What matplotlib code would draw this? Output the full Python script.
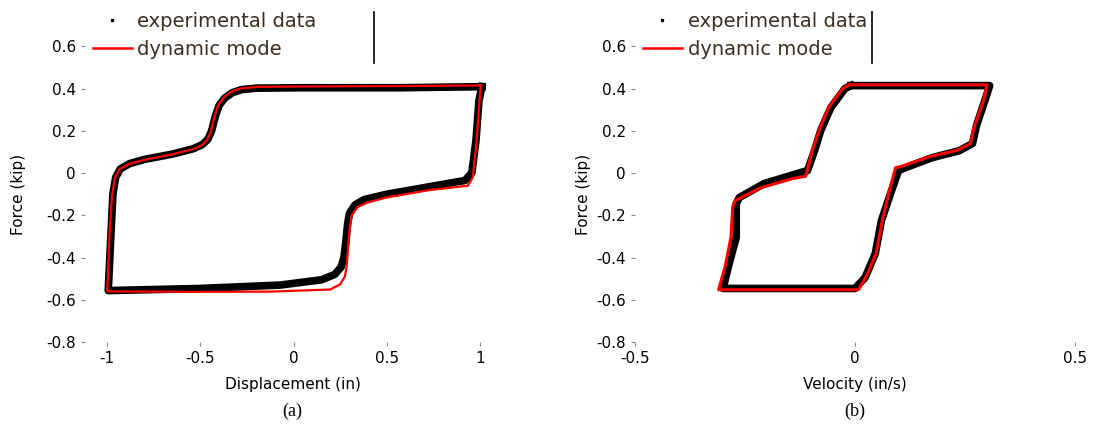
import matplotlib.pyplot as plt
from matplotlib.lines import Line2D

# hysteresis loop, force vs displacement
disp_exp = [1.011, 0.571, 0.035, -0.200, -0.280, -0.330, -0.370, -0.400, -0.420, -0.440,
            -0.460, -0.490, -0.540, -0.650, -0.800, -0.880, -0.930, -0.955, -0.970, -0.980,
            -0.995, -0.501, -0.072, 0.150, 0.220, 0.255, 0.270, 0.280, 0.290, 0.300,
            0.330, 0.380, 0.500, 0.732, 0.920, 0.957, 0.979, 0.995, 1.011]
force_disp_exp = [0.409, 0.404, 0.404, 0.402, 0.395, 0.380, 0.355, 0.320, 0.270, 0.200,
                  0.160, 0.135, 0.115, 0.090, 0.065, 0.045, 0.020, -0.020, -0.100, -0.280,
                  -0.556, -0.546, -0.530, -0.505, -0.480, -0.445, -0.400, -0.330, -0.240, -0.190,
                  -0.150, -0.125, -0.100, -0.064, -0.035, 0.002, 0.154, 0.343, 0.409]

disp_mod = [1.005, 0.571, 0.035, -0.200, -0.285, -0.335, -0.375, -0.405, -0.425, -0.445,
            -0.465, -0.495, -0.545, -0.655, -0.805, -0.885, -0.935, -0.960, -0.975, -0.988,
            -1.000, -0.501, -0.125, 0.196, 0.249, 0.275, 0.285, 0.292, 0.300, 0.312,
            0.345, 0.395, 0.500, 0.732, 0.935, 0.962, 0.982, 0.998, 1.005]
force_disp_mod = [0.415, 0.412, 0.410, 0.408, 0.400, 0.385, 0.358, 0.320, 0.268, 0.195,
                  0.155, 0.130, 0.112, 0.088, 0.062, 0.042, 0.018, -0.025, -0.110, -0.290,
                  -0.560, -0.562, -0.561, -0.551, -0.527, -0.490, -0.440, -0.360, -0.270, -0.200,
                  -0.160, -0.140, -0.115, -0.080, -0.060, -0.020, 0.150, 0.340, 0.415]

# hysteresis loop, force vs velocity
vel_exp = [-0.009, 0.306, 0.295, 0.276, 0.267, 0.237, 0.175, 0.115, 0.099, 0.083,
           0.060, 0.046, 0.023, 0.000, -0.177, -0.300, -0.286, -0.270, -0.270, -0.263,
           -0.207, -0.131, -0.108, -0.092, -0.078, -0.055, -0.023, -0.009]
force_vel_exp = [0.414, 0.414, 0.343, 0.225, 0.140, 0.106, 0.073, 0.026, 0.012, -0.083,
                 -0.225, -0.381, -0.494, -0.546, -0.546, -0.546, -0.428, -0.305, -0.144, -0.116,
                 -0.050, -0.002, 0.012, 0.106, 0.201, 0.310, 0.400, 0.414]

vel_mod = [-0.012, 0.300, 0.292, 0.272, 0.262, 0.232, 0.170, 0.110, 0.092, 0.078,
           0.062, 0.048, 0.028, 0.008, -0.177, -0.310, -0.295, -0.282, -0.278, -0.272,
           -0.215, -0.140, -0.112, -0.098, -0.082, -0.060, -0.028, -0.012]
force_vel_mod = [0.418, 0.418, 0.343, 0.225, 0.140, 0.108, 0.078, 0.035, 0.025, -0.083,
                 -0.225, -0.381, -0.480, -0.552, -0.552, -0.552, -0.440, -0.305, -0.160, -0.130,
                 -0.070, -0.025, -0.015, 0.100, 0.200, 0.310, 0.400, 0.418]

y_ticks = [0.6, 0.4, 0.2, 0, -0.2, -0.4, -0.6, -0.8]
y_tick_labels = ['0.6', '0.4', '0.2', '0', '-0.2', '-0.4', '-0.6', '-0.8']
legend_labels = ['experimental data', 'dynamic mode']

fig = plt.figure(figsize=(10.99, 4.25), dpi=100)
ax1 = fig.add_axes([0.0773, 0.195, 0.378, 0.696])
ax2 = fig.add_axes([0.5778, 0.195, 0.4004, 0.696])

ax1.plot(disp_exp, force_disp_exp, color='black', lw=5.5, solid_joinstyle='round')
ax1.plot(disp_mod, force_disp_mod, color='red', lw=1.6)
ax1.set_xlim(-1.12, 1.11)
ax1.set_xticks([-1, -0.5, 0, 0.5, 1])
ax1.set_xticklabels(['-1', '-0.5', '0', '0.5', '1'])
ax1.set_xlabel('Displacement (in)', fontsize=11, labelpad=8)

ax2.plot(vel_exp, force_vel_exp, color='black', lw=5.5, solid_joinstyle='round')
ax2.plot(vel_mod, force_vel_mod, color='red', lw=2.2)
ax2.set_xlim(-0.5, 0.5)
ax2.set_xticks([-0.5, 0, 0.5])
ax2.set_xticklabels(['-0.5', '0', '0.5'])
ax2.set_xlabel('Velocity (in/s)', fontsize=11, labelpad=8)

handles = [Line2D([], [], color='black', marker='s', markersize=2, lw=0),
           Line2D([], [], color='red', lw=1.8)]
for ax, cap, lx in [(ax1, '(a)', -0.142), (ax2, '(b)', -0.10)]:
    ax.set_ylim(-0.8, 0.6)
    ax.set_yticks(y_ticks)
    ax.set_yticklabels(y_tick_labels)
    ax.set_ylabel('Force (kip)', fontsize=11)
    ax.yaxis.set_label_coords(lx, 0.5)
    for s in ax.spines.values():
        s.set_visible(False)
    ax.tick_params(labelsize=11, length=3, color='#888888')
    leg = ax.legend(handles, legend_labels,
                    loc='lower left', bbox_to_anchor=(0.0, 0.93), frameon=False,
                    fontsize=14, handlelength=2.0, handletextpad=0.3, labelspacing=0.5,
                    borderaxespad=0)
    for t in leg.get_texts():
        t.set_color('#3b2e22')
    ax.text(0.5, -0.235, cap, transform=ax.transAxes, ha='center', va='center',
            fontsize=13, family='Liberation Serif')

fig.add_artist(Line2D([374 / 1099, 374 / 1099], [1 - 12 / 425, 1 - 63 / 425],
                      transform=fig.transFigure, color='black', lw=1.2))
fig.add_artist(Line2D([872 / 1099, 872 / 1099], [1 - 12 / 425, 1 - 63 / 425],
                      transform=fig.transFigure, color='black', lw=1.2))

fig.savefig('out.png', dpi=100)
